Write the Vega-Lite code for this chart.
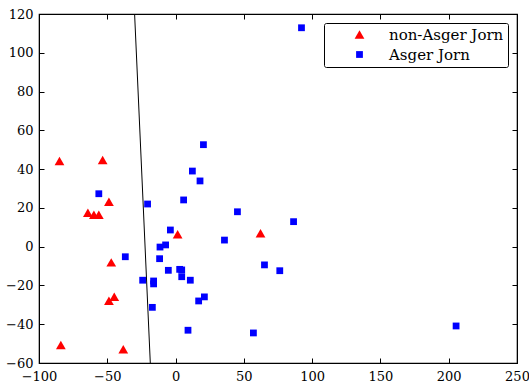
{
  "$schema": "https://vega.github.io/schema/vega-lite/v6.json",
  "width": 478,
  "height": 349,
  "autosize": {"type": "none"},
  "padding": {"left": 39, "top": 14, "right": 12, "bottom": 25},
  "config": {
    "view": {"stroke": "black", "strokeWidth": 1.2},
    "font": "DejaVu Serif",
    "axis": {
      "grid": false,
      "domainColor": "black",
      "tickColor": "black",
      "labelColor": "black",
      "labelFont": "DejaVu Serif",
      "labelFontSize": 13,
      "tickSize": -5,
      "labelFlush": false,
      "title": null
    }
  },
  "datasets": {
    "pts": [
      {"x": -85, "y": 44.2, "group": "non-Asger Jorn"},
      {"x": -53.4, "y": 44.7, "group": "non-Asger Jorn"},
      {"x": -48.8, "y": 23.2, "group": "non-Asger Jorn"},
      {"x": -64.2, "y": 17.5, "group": "non-Asger Jorn"},
      {"x": -59.8, "y": 16.5, "group": "non-Asger Jorn"},
      {"x": -56.2, "y": 16.5, "group": "non-Asger Jorn"},
      {"x": 1.5, "y": 6.4, "group": "non-Asger Jorn"},
      {"x": -47.1, "y": -8.1, "group": "non-Asger Jorn"},
      {"x": -44.9, "y": -25.8, "group": "non-Asger Jorn"},
      {"x": -48.8, "y": -27.9, "group": "non-Asger Jorn"},
      {"x": -84, "y": -50.7, "group": "non-Asger Jorn"},
      {"x": -38.3, "y": -52.9, "group": "non-Asger Jorn"},
      {"x": 62.2, "y": 6.9, "group": "non-Asger Jorn"},
      {"x": 20.4, "y": 52.6, "group": "Asger Jorn"},
      {"x": 12.3, "y": 39.0, "group": "Asger Jorn"},
      {"x": 17.9, "y": 33.9, "group": "Asger Jorn"},
      {"x": -56.2, "y": 27.3, "group": "Asger Jorn"},
      {"x": 5.9, "y": 24.1, "group": "Asger Jorn"},
      {"x": -20.5, "y": 22.0, "group": "Asger Jorn"},
      {"x": -3.8, "y": 8.6, "group": "Asger Jorn"},
      {"x": -11.4, "y": -0.2, "group": "Asger Jorn"},
      {"x": -7.3, "y": 0.9, "group": "Asger Jorn"},
      {"x": -36.8, "y": -5.2, "group": "Asger Jorn"},
      {"x": -11.7, "y": -6.2, "group": "Asger Jorn"},
      {"x": -5.3, "y": -12.2, "group": "Asger Jorn"},
      {"x": 3.0, "y": -11.7, "group": "Asger Jorn"},
      {"x": 4.5, "y": -12.0, "group": "Asger Jorn"},
      {"x": 4.5, "y": -15.5, "group": "Asger Jorn"},
      {"x": 10.8, "y": -17.3, "group": "Asger Jorn"},
      {"x": -24.1, "y": -17.3, "group": "Asger Jorn"},
      {"x": -16.1, "y": -17.7, "group": "Asger Jorn"},
      {"x": -16.1, "y": -19.2, "group": "Asger Jorn"},
      {"x": 16.9, "y": -28.0, "group": "Asger Jorn"},
      {"x": 21.1, "y": -25.9, "group": "Asger Jorn"},
      {"x": -17.0, "y": -31.3, "group": "Asger Jorn"},
      {"x": 9.1, "y": -43.1, "group": "Asger Jorn"},
      {"x": 45.3, "y": 18.0, "group": "Asger Jorn"},
      {"x": 86.4, "y": 12.9, "group": "Asger Jorn"},
      {"x": 35.8, "y": 3.4, "group": "Asger Jorn"},
      {"x": 65.1, "y": -9.4, "group": "Asger Jorn"},
      {"x": 76.3, "y": -12.4, "group": "Asger Jorn"},
      {"x": 57.0, "y": -44.5, "group": "Asger Jorn"},
      {"x": 92.2, "y": 112.9, "group": "Asger Jorn"},
      {"x": 205.4, "y": -40.9, "group": "Asger Jorn"}
    ],
    "line": [
      {"x": -30.0, "y": 120},
      {"x": -18.5, "y": -60}
    ]
  },
  "resolve": {"axis": {"x": "independent", "y": "independent"}},
  "layer": [
    {
      "data": {"name": "line"},
      "mark": {"type": "line", "color": "black", "strokeWidth": 1, "clip": true},
      "encoding": {
        "x": {"field": "x", "type": "quantitative", "scale": {"domain": [-100, 250], "nice": false, "zero": false},
              "axis": {"orient": "bottom", "values": [-100, -50, 0, 50, 100, 150, 200, 250], "labelPadding": 12}},
        "y": {"field": "y", "type": "quantitative", "scale": {"domain": [-60, 120], "nice": false, "zero": false},
              "axis": {"orient": "left", "values": [-60, -40, -20, 0, 20, 40, 60, 80, 100, 120], "labelPadding": 11}},
        "order": {"field": "y", "type": "quantitative"}
      }
    },
    {
      "data": {"name": "pts"},
      "mark": {"type": "point", "filled": true, "opacity": 1},
      "encoding": {
        "x": {"field": "x", "type": "quantitative",
              "axis": {"orient": "top", "labels": false, "values": [-100, -50, 0, 50, 100, 150, 200, 250]}},
        "y": {"field": "y", "type": "quantitative",
              "axis": {"orient": "right", "labels": false, "values": [-60, -40, -20, 0, 20, 40, 60, 80, 100, 120]}},
        "size": {"field": "group", "type": "nominal",
                 "scale": {"domain": ["non-Asger Jorn", "Asger Jorn"], "range": [95, 46]}, "legend": null},
        "color": {"field": "group", "type": "nominal",
                  "scale": {"domain": ["non-Asger Jorn", "Asger Jorn"], "range": ["#ff0000", "#0000ff"]},
                  "legend": {"orient": "none", "legendX": 285, "legendY": 9, "title": null,
                             "strokeColor": "black", "fillColor": "white", "cornerRadius": 2,
                             "padding": 4, "symbolOffset": 24, "labelOffset": 22, "labelFontSize": 15,
                             "labelFont": "DejaVu Serif", "labelColor": "black", "rowPadding": 4, "symbolSize": 70}},
        "shape": {"field": "group", "type": "nominal",
                  "scale": {"domain": ["non-Asger Jorn", "Asger Jorn"], "range": ["triangle-up", "square"]}}
      }
    }
  ]
}
